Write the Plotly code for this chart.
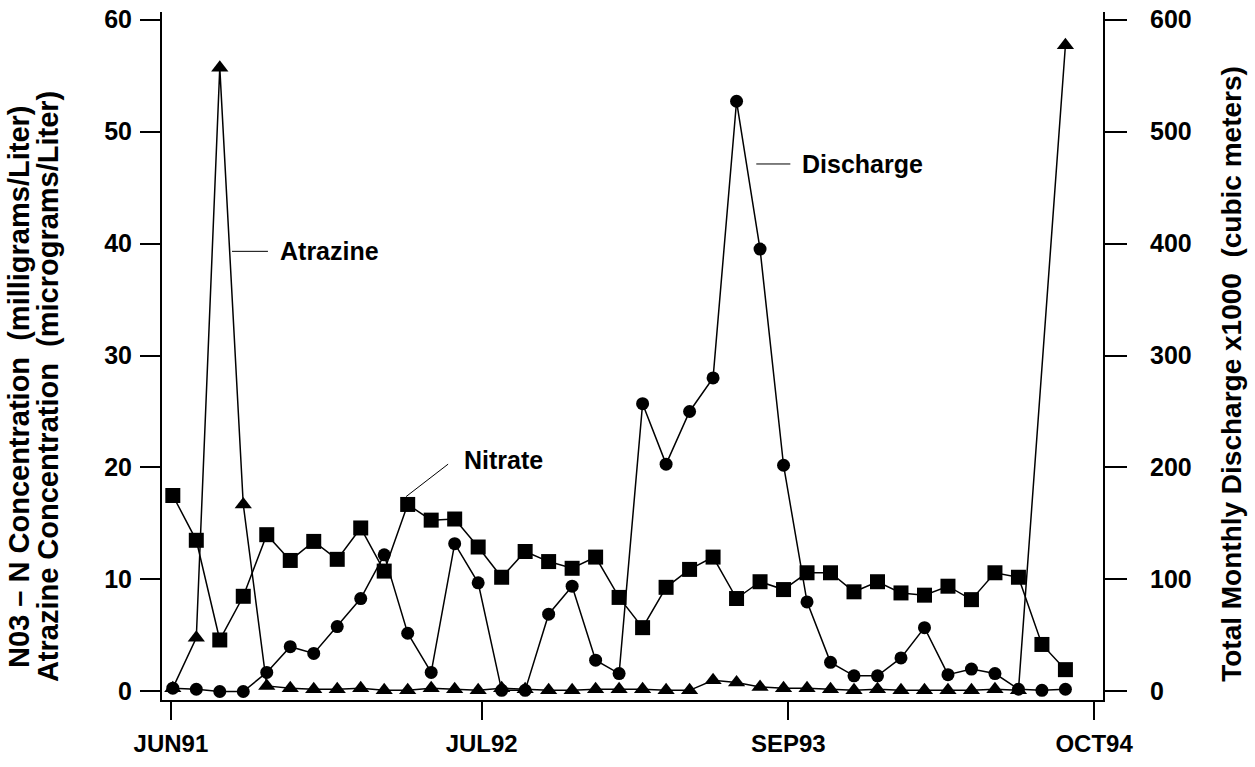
import plotly.graph_objects as go

# Monthly sampling index (0 = June 1991)
months = list(range(39))

# NO3-N concentration, mg/L
nitrate = [17.5, 13.5, 4.6, 8.5, 14.0, 11.7, 13.4, 11.8, 14.6, 10.75,
           16.7, 15.3, 15.4, 12.9, 10.2, 12.5, 11.6, 11.0, 12.0, 8.4,
           5.7, 9.3, 10.9, 12.0, 8.3, 9.8, 9.1, 10.6, 10.6, 8.9,
           9.8, 8.8, 8.6, 9.4, 8.2, 10.6, 10.2, 4.2, 1.95]

# Atrazine concentration, ug/L (no sample in month 37)
atrazine = [0.3, 4.8, 55.7, 16.7, 0.5, 0.3, 0.2, 0.2, 0.3, 0.1,
            0.1, 0.3, 0.2, 0.1, 0.3, 0.2, 0.1, 0.1, 0.2, 0.2,
            0.2, 0.1, 0.1, 1.0, 0.8, 0.4, 0.3, 0.3, 0.2, 0.1,
            0.2, 0.1, 0.1, 0.1, 0.1, 0.2, 0.1, None, 57.7]

# Total monthly discharge, x1000 m^3
discharge = [3, 2, 0, 0, 17, 40, 34, 58, 83, 122,
             52, 17, 132, 97, 1, 1, 69, 94, 28, 16,
             257, 203, 250, 280, 527, 395, 202, 80, 26, 14,
             14, 30, 57, 15, 20, 16, 2, 1, 2]

tick_labels = ["JUN91", "JUL92", "SEP93", "OCT94"]
tick_months = [-0.08, 13.15, 26.2, 39.22]

FONT = "Liberation Sans, Arial, sans-serif"
black = "#000000"

fig = go.Figure()

fig.add_trace(go.Scatter(
    x=months, y=discharge, yaxis="y2", mode="lines+markers", name="Discharge",
    line=dict(color=black, width=1.5),
    marker=dict(symbol="circle", size=13, color=black),
))
fig.add_trace(go.Scatter(
    x=months, y=nitrate, mode="lines+markers", name="Nitrate",
    line=dict(color=black, width=1.5),
    marker=dict(symbol="square", size=15, color=black),
))
fig.add_trace(go.Scatter(
    x=months, y=atrazine, mode="lines+markers", name="Atrazine",
    connectgaps=True,
    line=dict(color=black, width=1.5),
    marker=dict(symbol="triangle-up", size=15, color=black),
))

# Series labels with leader lines
labels = [
    dict(text="Atrazine", x=4.48, y=39.3, lx=(2.52, 4.05), ly=(39.3, 39.3)),
    dict(text="Nitrate", x=12.31, y=20.7, lx=(9.93, 11.72), ly=(17.4, 20.3)),
    dict(text="Discharge", x=26.7, y=47.1, lx=(24.84, 26.29), ly=(47.1, 47.1)),
]
for lab in labels:
    fig.add_annotation(x=lab["x"], y=lab["y"], xref="x", yref="y", text=lab["text"],
                       showarrow=False, xanchor="left", yanchor="middle",
                       font=dict(family=FONT, size=25, color=black, weight="bold"))
    fig.add_shape(type="line", xref="x", yref="y",
                  x0=lab["lx"][0], y0=lab["ly"][0], x1=lab["lx"][1], y1=lab["ly"][1],
                  line=dict(color=black, width=1))

# Axis titles
title_font = dict(family=FONT, size=29, color=black, weight="bold")
fig.add_annotation(x=-0.152, y=0.455, xref="paper", yref="paper", textangle=-90,
                   text="N03 – N Concentration  (milligrams/Liter)", showarrow=False,
                   xanchor="center", yanchor="middle", font=title_font)
fig.add_annotation(x=-0.121, y=0.455, xref="paper", yref="paper", textangle=-90,
                   text="Atrazine Concentration  (micrograms/Liter)", showarrow=False,
                   xanchor="center", yanchor="middle", font=title_font)
fig.add_annotation(x=1.137, y=0.474, xref="paper", yref="paper", textangle=-90,
                   text="Total Monthly Discharge x1000  (cubic meters)", showarrow=False,
                   xanchor="center", yanchor="middle",
                   font=dict(family=FONT, size=28, color=black, weight="bold"))

fig.update_layout(
    width=1255, height=767,
    margin=dict(l=162, r=152, t=12, b=67),
    paper_bgcolor="white", plot_bgcolor="white",
    showlegend=False,
    xaxis=dict(
        range=[-0.46, 39.6], showgrid=False, zeroline=False, automargin=False,
        showline=True, linecolor=black, linewidth=2,
        tickmode="array", tickvals=tick_months, ticktext=tick_labels,
        ticks="outside", ticklen=18, tickwidth=1.5, tickcolor=black,
        ticklabelstandoff=3,
        tickfont=dict(family=FONT, size=24, color=black, weight="bold"),
    ),
    yaxis=dict(
        range=[-0.76, 60.67], showgrid=False, zeroline=False, automargin=False,
        showline=True, linecolor=black, linewidth=2,
        tickmode="linear", tick0=0, dtick=10,
        ticks="outside", ticklen=20, tickwidth=1.5, tickcolor=black,
        ticklabelstandoff=3,
        tickfont=dict(family=FONT, size=25, color=black, weight="bold"),
    ),
    yaxis2=dict(
        range=[-7.6, 606.7], overlaying="y", side="right", automargin=False,
        showgrid=False, zeroline=False,
        showline=True, linecolor=black, linewidth=2,
        tickmode="linear", tick0=0, dtick=100,
        ticks="outside", ticklen=22, tickwidth=1.5, tickcolor=black,
        ticklabelstandoff=18,
        tickfont=dict(family=FONT, size=25, color=black, weight="bold"),
    ),
)

fig.write_html("out.html")
